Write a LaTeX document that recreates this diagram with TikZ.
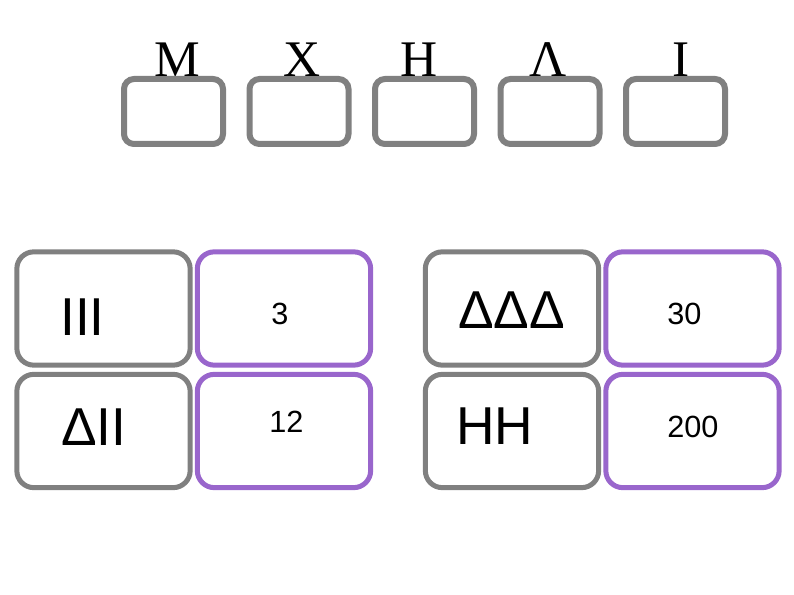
\documentclass[tikz,border=0pt]{standalone}
\usepackage{fontspec}
\setmainfont{Liberation Serif}
\newfontfamily\arialfont{Liberation Sans}
\usepackage{tikz}
\definecolor{boxgray}{HTML}{808080}
\definecolor{boxpurple}{HTML}{9966CC}

\begin{document}
\begin{tikzpicture}[x=0.75pt, y=-0.75pt,
    placebox/.style={draw=boxgray, line width=4.5pt, rounded corners=7.5pt,
        minimum width=74.25pt, minimum height=48.75pt, inner sep=0pt},
    cellbox/.style={draw=#1, line width=3.75pt, rounded corners=12.75pt,
        minimum width=130pt, minimum height=85pt, inner sep=0pt},
    bigtxt/.style={anchor=base west, inner sep=0pt, font=\arialfont\fontsize{40}{40}\selectfont},
    numtxt/.style={anchor=base west, inner sep=0pt, font=\arialfont\fontsize{23}{23}\selectfont}]
    \useasboundingbox (0,0) rectangle (794,595);
    % Top row - empty place boxes with letters
    \foreach \lab/\lx [count=\i] in {M/177, X/302, H/419, Λ/548, I/681} {
        \node[placebox] (place\i) at ({173.5+125.5*(\i-1)},111.5) {};
        \node[anchor=base, inner sep=0pt, font=\fontsize{38.5}{38.5}\selectfont] (letter\i) at (\lx,77) {\lab};
    }
    % Left pair of columns
    \node[cellbox=boxgray] (symA) at (103.5,308.5) {};
    \node[cellbox=boxpurple] (valA) at (284,308.5) {};
    \node[cellbox=boxgray] (symB) at (103.5,431) {};
    \node[cellbox=boxpurple] (valB) at (284,431) {};
    % Right pair of columns
    \node[cellbox=boxgray] (symC) at (512,308.5) {};
    \node[cellbox=boxpurple] (valC) at (692.5,308.5) {};
    \node[cellbox=boxgray] (symD) at (512,431) {};
    \node[cellbox=boxpurple] (valD) at (692.5,431) {};
    % Texts
    \node[bigtxt] (txtA) at (60,336) {III};
    \node[bigtxt] (txtB) at (61,446) {ΔII};
    \node[bigtxt] (txtC) at (458,329) {ΔΔΔ};
    \node[bigtxt] (txtD) at (456,445) {HH};
    \node[numtxt] (numA) at (271,325) {3};
    \node[numtxt] (numB) at (269,433) {12};
    \node[numtxt] (numC) at (667,325) {30};
    \node[numtxt] (numD) at (667,438) {200};
\end{tikzpicture}
\end{document}
